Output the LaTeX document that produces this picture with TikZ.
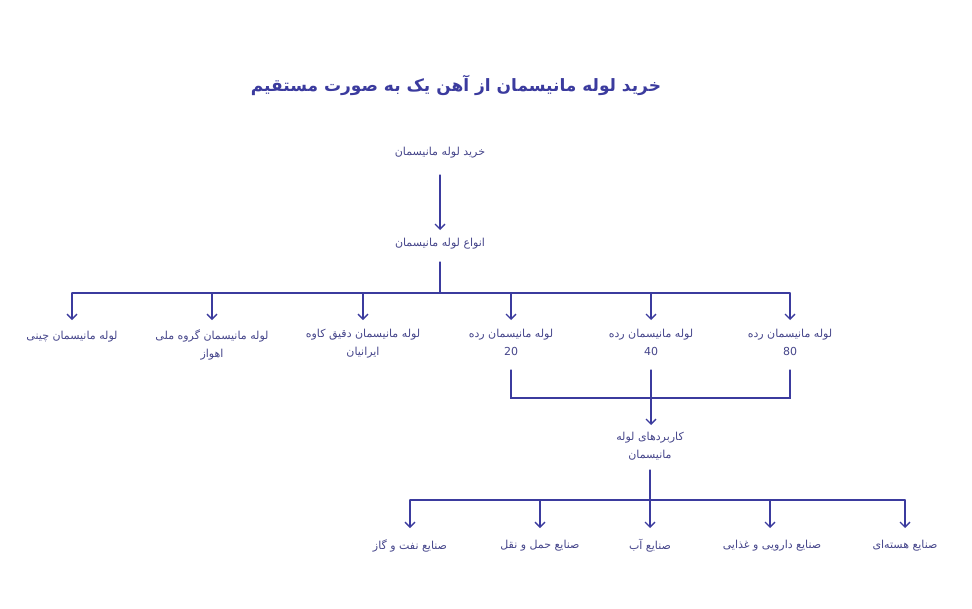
\documentclass[tikz,border=0pt]{standalone}
\usepackage{fontspec}
\newfontfamily\arabicfont[Script=Arabic]{DejaVu Sans}
\TeXXeTstate=1
\usetikzlibrary{arrows.meta}
\definecolor{ink}{HTML}{3B3B9E}
\definecolor{txt}{HTML}{45458A}
\newcommand{\fa}[1]{{\arabicfont\beginR #1\endR}}
\tikzset{
  lbl/.style={text=txt,font=\arabicfont\fontsize{11}{18}\selectfont,align=center,inner sep=1pt},
  wire/.style={draw=ink,line width=1.3pt,line cap=round},
  arr/.style={wire,-{Straight Barb[length=5pt,width=10pt]}}
}
\begin{document}
\begin{tikzpicture}[x=1pt,y=-1pt]
\useasboundingbox (0,0) rectangle (972,608);
\node[text=ink,font=\arabicfont\bfseries\fontsize{17}{20}\selectfont] (title) at (456,85) {\fa{خرید لوله مانیسمان از آهن یک به صورت مستقیم}};
\node[lbl] (n1) at (440,153) {\fa{خرید لوله مانیسمان}};
\node[lbl] (n2) at (440,244) {\fa{انواع لوله مانیسمان}};
\node[lbl] (a1) at (72,337) {\fa{لوله مانیسمان چینی}};
\node[lbl,anchor=north] (a2) at (212,328) {\fa{لوله مانیسمان گروه ملی}\\\fa{اهواز}};
\node[lbl,anchor=north] (a3) at (363,328) {\fa{لوله مانیسمان دقیق کاوه}\\\fa{ایرانیان}};
\node[lbl,anchor=north] (a4) at (511,328) {\fa{لوله مانیسمان رده}\\20};
\node[lbl,anchor=north] (a5) at (651,328) {\fa{لوله مانیسمان رده}\\40};
\node[lbl,anchor=north] (a6) at (790,328) {\fa{لوله مانیسمان رده}\\80};
\node[lbl,anchor=north] (k) at (650,431) {\fa{کاربردهای لوله}\\\fa{مانیسمان}};
\node[lbl] (b1) at (410,546) {\fa{صنایع نفت و گاز}};
\node[lbl] (b2) at (540,546) {\fa{صنایع حمل و نقل}};
\node[lbl] (b3) at (650,546) {\fa{صنایع آب}};
\node[lbl] (b4) at (772,546) {\fa{صنایع دارویی و غذایی}};
\node[lbl] (b5) at (905,546) {\fa{صنایع هسته‌ای}};
\coordinate (j1) at (440,293);
\coordinate (j2) at (651,398);
\coordinate (j3) at (650,500);
\draw[arr] (440,175) -- (440,230);
\draw[wire] (440,262) -- (j1);
\draw[wire] (72,293) -- (790,293);
\foreach \x in {72,212,363,511,651,790}
  \draw[arr] (\x,293) -- (\x,320);
\draw[wire] (511,370) -- (511,398) -- (790,398) -- (790,370);
\draw[wire] (651,370) -- (j2);
\draw[arr] (j2) -- (651,425);
\draw[wire] (650,470) -- (j3);
\draw[wire] (410,500) -- (905,500);
\foreach \x in {410,540,650,770,905}
  \draw[arr] (\x,500) -- (\x,528);
\end{tikzpicture}
\end{document}
